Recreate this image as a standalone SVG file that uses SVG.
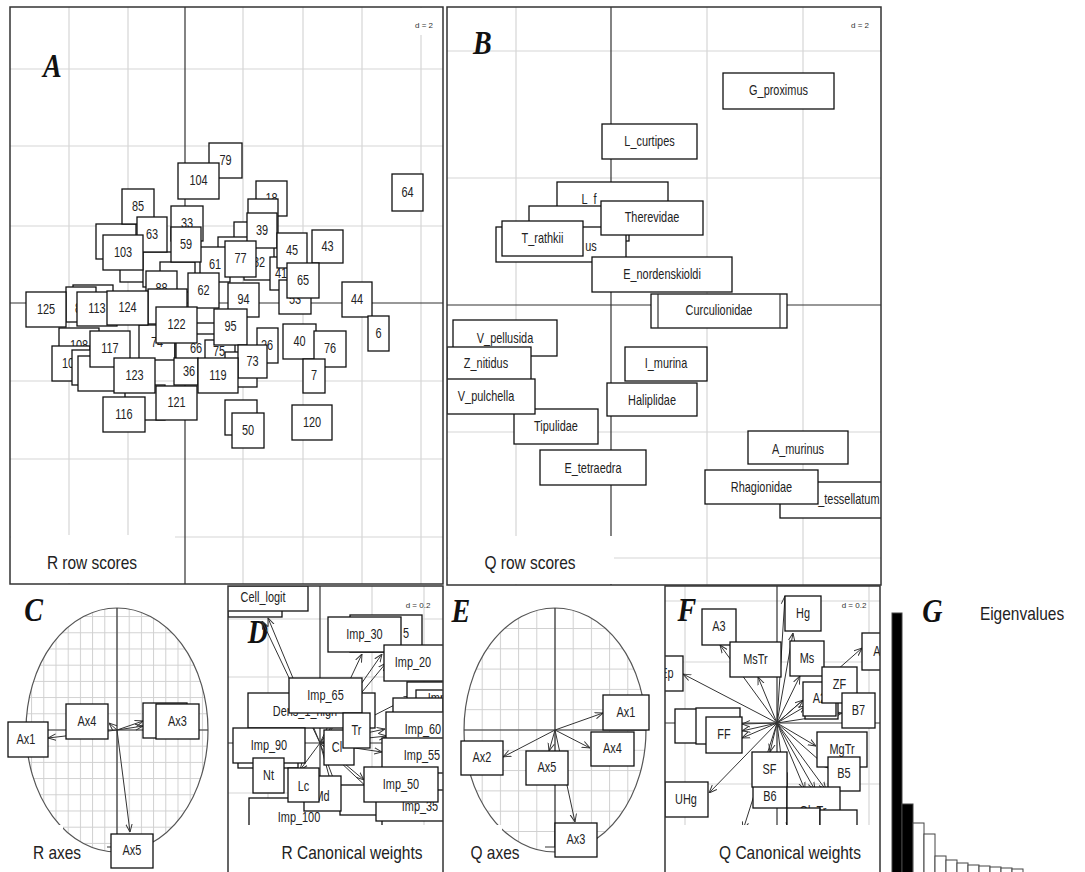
<svg xmlns="http://www.w3.org/2000/svg" width="1085" height="872" viewBox="0 0 1085 872">
<style>
.fr{fill:none;stroke:#333;stroke-width:1.5}
.g{stroke:#d6d6d6;stroke-width:1.2;fill:none}
.ax{stroke:#333;stroke-width:1.2;fill:none}
.b{fill:#fff;stroke:#111;stroke-width:1.3}
.wh{fill:#fff;stroke:none}
.t{font-family:"Liberation Sans",Arial,sans-serif;font-size:14px;fill:#222;text-anchor:middle;dominant-baseline:central;transform-box:fill-box;transform-origin:center;transform:scaleX(.78)}
.ti{font-family:"Liberation Sans",Arial,sans-serif;font-size:18px;fill:#222;text-anchor:middle;dominant-baseline:central;transform-box:fill-box;transform-origin:center;transform:scaleX(.86)}
.sm{font-family:"Liberation Sans",Arial,sans-serif;font-size:8px;fill:#333;text-anchor:middle;dominant-baseline:central}
.L{font-family:"Liberation Serif","Times New Roman",serif;font-style:italic;font-weight:bold;font-size:33px;fill:#111;text-anchor:middle;dominant-baseline:central;transform-box:fill-box;transform-origin:center;transform:scaleX(.85)}
.ar{stroke:#333;stroke-width:1;fill:none;marker-end:url(#ah)}
.el{fill:url(#gpC);stroke:#555;stroke-width:1.2}
.bar{stroke:#444;stroke-width:1}
</style>
<defs>
<marker id="ah" viewBox="0 0 10 10" refX="10" refY="5" markerWidth="8" markerHeight="8" markerUnits="userSpaceOnUse" orient="auto"><path d="M0,1L10,5L0,9" fill="none" stroke="#333" stroke-width="1.2"/></marker>
<pattern id="gpC" patternUnits="userSpaceOnUse" width="12.2" height="16.2" x="116.5" y="729.5"><path d="M0.5,0V16.2M0,0.5H12.2" stroke="#d0d0d0" stroke-width="1" fill="none"/></pattern>
<pattern id="gpE" patternUnits="userSpaceOnUse" width="18.2" height="20.3" x="554.5" y="729.5"><path d="M0.5,0V20.3M0,0.5H18.2" stroke="#d0d0d0" stroke-width="1" fill="none"/></pattern>
<clipPath id="cA"><rect x="10" y="7" width="433" height="577"/></clipPath>
<clipPath id="cB"><rect x="447" y="7" width="434" height="578"/></clipPath>
<clipPath id="cD"><rect x="228" y="586" width="215" height="286"/></clipPath>
<clipPath id="cF"><rect x="665" y="586" width="215" height="286"/></clipPath>
</defs>
<rect width="1085" height="872" fill="#fff"/>

<!-- Panel A -->
<g id="panelA" clip-path="url(#cA)">
<g id="A-grid">
<path class="g" d="M69,7V584M128,7V584M243,7V584M303,7V584M362,7V584M421,7V584M10,69H443M10,146H443M10,226H443M10,381H443M10,459H443M10,537H443"/>
<rect class="wh" x="408" y="8" width="34" height="27"/>
<text class="sm" x="424" y="25">d = 2</text>
<path class="ax" d="M185,7V584M10,303H443"/>
</g>
<text class="L" x="52.5" y="66" font-size="34">A</text>
<g id="A-nodes">
<g id="a-bk1"><rect class="b" x="96" y="224" width="40" height="35"/></g>
<g id="a-18"><rect class="b" x="256" y="181" width="31" height="35"/><text class="t" x="271.5" y="198.5">18</text></g>
<g id="a-bk2"><rect class="b" x="248" y="199" width="30" height="35"/></g>
<g id="a-33"><rect class="b" x="171" y="206" width="32" height="35"/><text class="t" x="187" y="223.5">33</text></g>
<g id="a-bk3"><rect class="b" x="234" y="222" width="30" height="35"/></g>
<g id="a-bk4"><rect class="b" x="218" y="237" width="30" height="35"/></g>
<g id="a-61"><rect class="b" x="200" y="247" width="30" height="35"/><text class="t" x="215" y="264.5">61</text></g>
<g id="a-82"><rect class="b" x="244" y="245" width="30" height="35"/><text class="t" x="259" y="262.5">82</text></g>
<g id="a-41"><rect class="b" x="270" y="257" width="22" height="33"/><text class="t" x="281" y="274">41</text></g>
<g id="a-53"><rect class="b" x="279" y="280" width="32" height="34"/><text class="t" x="295" y="300">53</text></g>
<g id="a-bk5"><rect class="b" x="120" y="252" width="40" height="30"/></g>
<g id="a-bk6"><rect class="b" x="143" y="252" width="35" height="35"/></g>
<g id="a-bk7"><rect class="b" x="160" y="262" width="35" height="30"/></g>
<g id="a-88"><rect class="b" x="146" y="271" width="31" height="35"/><text class="t" x="161.5" y="288.5">88</text></g>
<g id="a-bk8"><rect class="b" x="148" y="289" width="39" height="35"/></g>
<g id="a-bk9"><rect class="b" x="73" y="285" width="40" height="35"/></g>
<g id="a-80"><rect class="b" x="66" y="287" width="30" height="35"/><text class="t" x="81" y="309">80</text></g>
<g id="a-108"><rect class="b" x="59" y="328" width="40" height="35"/><text class="t" x="79" y="345.5">108</text></g>
<g id="a-101"><rect class="b" x="52" y="346" width="38" height="35"/><text class="t" x="71" y="363.5">101</text></g>
<g id="a-bk10"><rect class="b" x="72" y="350" width="40" height="35"/></g>
<g id="a-bk11"><rect class="b" x="78" y="356" width="40" height="35"/></g>
<g id="a-74"><rect class="b" x="139" y="325" width="36" height="35"/><text class="t" x="157" y="342.5">74</text></g>
<g id="a-bk15"><rect class="b" x="175" y="323" width="40" height="35"/></g>
<g id="a-66"><rect class="b" x="176" y="334" width="40" height="35"/><text class="t" x="196" y="349">66</text></g>
<g id="a-75"><rect class="b" x="205" y="340" width="30" height="35"/><text class="t" x="219" y="352">75</text></g>
<g id="a-26"><rect class="b" x="257" y="328" width="21" height="35"/><text class="t" x="267" y="345.5">26</text></g>
<g id="a-bk12"><rect class="b" x="225" y="352" width="32" height="35"/></g>
<g id="a-bk13"><rect class="b" x="125" y="385" width="40" height="35"/></g>
<g id="a-bk14"><rect class="b" x="225" y="400" width="32" height="35"/></g>

<g id="a-79"><rect class="b" x="209" y="143" width="33" height="35"/><text class="t" x="225.5" y="160.5">79</text></g>
<g id="a-104"><rect class="b" x="178" y="163" width="41" height="36"/><text class="t" x="198.5" y="181">104</text></g>
<g id="a-64"><rect class="b" x="392" y="174" width="31" height="37"/><text class="t" x="407.5" y="192.5">64</text></g>
<g id="a-85"><rect class="b" x="122" y="189" width="32" height="35"/><text class="t" x="138" y="206.5">85</text></g>
<g id="a-39"><rect class="b" x="247" y="213" width="30" height="35"/><text class="t" x="262" y="230.5">39</text></g>
<g id="a-63"><rect class="b" x="137" y="217" width="30" height="35"/><text class="t" x="152" y="234.5">63</text></g>
<g id="a-43"><rect class="b" x="312" y="230" width="31" height="33"/><text class="t" x="327.5" y="246.5">43</text></g>
<g id="a-59"><rect class="b" x="171" y="227" width="30" height="35"/><text class="t" x="186" y="244.5">59</text></g>
<g id="a-45"><rect class="b" x="277" y="233" width="30" height="35"/><text class="t" x="292" y="250.5">45</text></g>
<g id="a-103"><rect class="b" x="103" y="235" width="40" height="35"/><text class="t" x="123" y="252.5">103</text></g>
<g id="a-77"><rect class="b" x="225" y="241" width="31" height="36"/><text class="t" x="240.5" y="259">77</text></g>
<g id="a-65"><rect class="b" x="287" y="263" width="32" height="35"/><text class="t" x="303" y="280.5">65</text></g>
<g id="a-62"><rect class="b" x="188" y="273" width="31" height="35"/><text class="t" x="203.5" y="290.5">62</text></g>
<g id="a-44"><rect class="b" x="342" y="282" width="30" height="35"/><text class="t" x="357" y="299.5">44</text></g>
<g id="a-94"><rect class="b" x="228" y="283" width="31" height="34"/><text class="t" x="243.5" y="300">94</text></g>
<g id="a-125"><rect class="b" x="26" y="292" width="40" height="35"/><text class="t" x="46" y="309.5">125</text></g>
<g id="a-113"><rect class="b" x="77" y="292" width="40" height="34"/><text class="t" x="97" y="309">113</text></g>
<g id="a-124"><rect class="b" x="107" y="291" width="41" height="34"/><text class="t" x="127.5" y="308">124</text></g>
<g id="a-122"><rect class="b" x="156" y="307" width="41" height="36"/><text class="t" x="176.5" y="325">122</text></g>
<g id="a-95"><rect class="b" x="214" y="309" width="33" height="36"/><text class="t" x="230.5" y="327">95</text></g>
<g id="a-6"><rect class="b" x="368" y="316" width="21" height="35"/><text class="t" x="378.5" y="333.5">6</text></g>
<g id="a-40"><rect class="b" x="283" y="324" width="33" height="35"/><text class="t" x="299.5" y="341.5">40</text></g>
<g id="a-76"><rect class="b" x="314" y="331" width="32" height="36"/><text class="t" x="330" y="349">76</text></g>
<g id="a-117"><rect class="b" x="90" y="331" width="40" height="36"/><text class="t" x="110" y="349">117</text></g>
<g id="a-73"><rect class="b" x="238" y="345" width="29" height="33"/><text class="t" x="252.5" y="361.5">73</text></g>
<g id="a-36"><rect class="b" x="174" y="358" width="24" height="27"/><text class="t" x="189" y="372">36</text></g>
<g id="a-123"><rect class="b" x="114" y="358" width="41" height="35"/><text class="t" x="134.5" y="375.5">123</text></g>
<g id="a-119"><rect class="b" x="198" y="358" width="40" height="35"/><text class="t" x="218" y="375.5">119</text></g>
<g id="a-7"><rect class="b" x="303" y="359" width="22" height="34"/><text class="t" x="314" y="376">7</text></g>
<g id="a-121"><rect class="b" x="156" y="386" width="41" height="34"/><text class="t" x="176.5" y="403">121</text></g>
<g id="a-116"><rect class="b" x="103" y="397" width="42" height="35"/><text class="t" x="124" y="414.5">116</text></g>
<g id="a-50"><rect class="b" x="232" y="413" width="32" height="35"/><text class="t" x="248" y="430.5">50</text></g>
<g id="a-120"><rect class="b" x="292" y="405" width="40" height="35"/><text class="t" x="312" y="422.5">120</text></g>
</g>
<rect class="wh" x="11" y="535" width="164" height="48"/>
<text class="ti" x="92" y="563">R row scores</text>
</g>
<rect class="fr" x="10" y="7" width="433" height="577"/>

<!-- Panel B -->
<g id="panelB" clip-path="url(#cB)">
<g id="B-grid">
<path class="g" d="M516,7V585M707,7V585M803,7V585M447,51H881M447,178H881M447,432H881M447,558H881"/>
<text class="sm" x="860" y="25">d = 2</text>
<path class="ax" d="M611,7V585M447,305H881"/>
</g>
<text class="L" x="482.5" y="43" font-size="31">B</text>
<g id="B-nodes">
<g id="b-Lf"><rect class="b" x="557" y="182" width="111" height="35"/><text class="t" x="589" y="199.5">L_f</text></g>
<g id="b-bk1"><rect class="b" x="529" y="206" width="100" height="35"/></g>
<g id="b-us"><rect class="b" x="496" y="227" width="130" height="35"/><text class="t" x="591" y="247">us</text></g>
<g id="b-E_nordenskioldi"><rect class="b" x="592" y="257" width="140" height="35"/><text class="t" x="662" y="274.5">E_nordenskioldi</text></g>
<g id="b-T_rathkii"><rect class="b" x="502" y="221" width="81" height="35"/><text class="t" x="542.5" y="238.5">T_rathkii</text></g>
<g id="b-Therevidae"><rect class="b" x="601" y="201" width="102" height="34"/><text class="t" x="652" y="218">Therevidae</text></g>
<g id="b-G_proximus"><rect class="b" x="723" y="73" width="111" height="36"/><text class="t" x="778.5" y="91">G_proximus</text></g>
<g id="b-L_curtipes"><rect class="b" x="602" y="124" width="95" height="35"/><text class="t" x="649.5" y="141.5">L_curtipes</text></g>
<g id="b-Curculionidae"><rect class="b" x="651" y="294" width="136" height="34"/><path class="ax" d="M658,294V328M780,294V328"/><text class="t" x="719" y="311">Curculionidae</text></g>
<g id="b-Tipulidae"><rect class="b" x="514" y="409" width="84" height="35"/><text class="t" x="556" y="426.5">Tipulidae</text></g>
<g id="b-V_pellusida"><rect class="b" x="453" y="320" width="104" height="36"/><text class="t" x="505" y="339">V_pellusida</text></g>
<g id="b-Z_nitidus"><rect class="b" x="447" y="347" width="84" height="34"/><text class="t" x="486" y="364">Z_nitidus</text></g>
<g id="b-V_pulchella"><rect class="b" x="447" y="379" width="88" height="35"/><text class="t" x="486" y="397">V_pulchella</text></g>
<g id="b-I_murina"><rect class="b" x="625" y="347" width="82" height="34"/><text class="t" x="666" y="364">I_murina</text></g>
<g id="b-Haliplidae"><rect class="b" x="607" y="383" width="90" height="33"/><text class="t" x="652" y="401">Haliplidae</text></g>
<g id="b-E_tetraedra"><rect class="b" x="540" y="450" width="106" height="35"/><text class="t" x="593" y="469">E_tetraedra</text></g>
<g id="b-A_murinus"><rect class="b" x="748" y="431" width="100" height="33"/><text class="t" x="798" y="450">A_murinus</text></g>
<g id="b-tessellatum"><rect class="b" x="780" y="482" width="130" height="36"/><text class="t" x="849" y="500">_tessellatum</text></g>
<g id="b-Rhagionidae"><rect class="b" x="705" y="470" width="113" height="34"/><text class="t" x="761.5" y="488">Rhagionidae</text></g>
</g>
<rect class="wh" x="448" y="536" width="166" height="48"/>
<text class="ti" x="530" y="563">Q row scores</text>
</g>
<rect class="fr" x="447" y="7" width="434" height="578"/>

<!-- Panel C -->
<g id="panelC">
<ellipse class="el" cx="117" cy="730" rx="91" ry="122"/>
<path class="ax" d="M117,608V847M26,730H208M107,847H111"/>
<rect class="wh" x="0" y="825" width="63" height="47"/>
<text class="L" x="33.5" y="610">C</text>
<g id="C-connectors">
<line class="ar" x1="117" y1="730" x2="48" y2="738"/>
<line class="ar" x1="117" y1="730" x2="109" y2="723"/>
<line class="ar" x1="117" y1="730" x2="143" y2="721"/>
<line class="ar" x1="117" y1="730" x2="143" y2="726"/>
<line class="ar" x1="117" y1="730" x2="130" y2="832"/>
</g>
<g id="c-Ax1"><rect class="b" x="8" y="722" width="40" height="35"/><text class="t" x="26" y="740">Ax1</text></g>
<g id="c-Ax4"><rect class="b" x="66" y="704" width="42" height="35"/><text class="t" x="87" y="721.5">Ax4</text></g>
<g id="c-Ax2"><rect class="b" x="143" y="703" width="44" height="35"/></g>
<g id="c-Ax3"><rect class="b" x="156" y="704" width="43" height="35"/><text class="t" x="177.5" y="721.5">Ax3</text></g>
<g id="c-Ax5"><rect class="b" x="111" y="834" width="42" height="34"/><text class="t" x="132" y="851">Ax5</text></g>
<text class="ti" x="57" y="853">R axes</text>
</g>

<!-- Panel D -->
<g id="panelD" clip-path="url(#cD)">
<path class="g" d="M268,586V825M372,586V825M424,586V825M228,619H443M228,677H443M228,793H443"/>
<text class="sm" x="418" y="605">d = 0.2</text>
<path class="ax" d="M320,586V825M228,743H443"/>
<text class="L" x="258" y="632">D</text>
<g id="D-connectors">
<line class="ar" x1="320" y1="743" x2="268" y2="618"/>
<line class="ar" x1="320" y1="743" x2="262" y2="621"/>
<line class="ar" x1="320" y1="743" x2="362" y2="654"/>
<line class="ar" x1="320" y1="743" x2="382" y2="654"/>
<line class="ar" x1="320" y1="743" x2="386" y2="663"/>
<line class="ar" x1="320" y1="743" x2="412" y2="696"/>
<line class="ar" x1="320" y1="743" x2="385" y2="729"/>
<line class="ar" x1="320" y1="743" x2="387" y2="736"/>
<line class="ar" x1="320" y1="743" x2="382" y2="752"/>
<line class="ar" x1="320" y1="743" x2="364" y2="780"/>
<line class="ar" x1="320" y1="743" x2="372" y2="792"/>
<line class="ar" x1="320" y1="743" x2="350" y2="823"/>
<line class="ar" x1="320" y1="743" x2="342" y2="823"/>
<line class="ar" x1="320" y1="743" x2="300" y2="770"/>
</g>
<g id="d-bk1"><rect class="b" x="228" y="588" width="54" height="29"/></g>
<g id="d-Cell_logit"><rect class="b" x="226" y="586" width="82" height="25"/><text class="t" x="263" y="598">Cell_logit</text></g>
<g id="d-Imp_25"><rect class="b" x="350" y="615" width="72" height="37"/><text class="t" x="406" y="633.5">5</text></g>
<g id="d-Imp_30"><rect class="b" x="328" y="617" width="73" height="35"/><text class="t" x="364.5" y="634.5">Imp_30</text></g>
<g id="d-Imp_20"><rect class="b" x="384" y="645" width="70" height="36"/><text class="t" x="413" y="663">Imp_20</text></g>
<g id="d-bk2"><rect class="b" x="407" y="682" width="40" height="26"/></g>
<g id="d-Imp_15"><rect class="b" x="416" y="690" width="60" height="18"/><text class="t" x="446" y="699">Imp_15</text></g>
<g id="d-Dens"><rect class="b" x="248" y="693" width="127" height="35"/><text class="t" x="305" y="712">Dens_1_high</text></g>
<g id="d-Imp_65"><rect class="b" x="289" y="678" width="73" height="35"/><text class="t" x="325.5" y="695.5">Imp_65</text></g>
<g id="d-bk3"><rect class="b" x="393" y="698" width="50" height="30"/></g>
<g id="d-Cl"><rect class="b" x="324" y="730" width="30" height="35"/><text class="t" x="337" y="747.5">Cl</text></g>
<g id="d-Tr"><rect class="b" x="343" y="713" width="27" height="35"/><text class="t" x="356.5" y="730.5">Tr</text></g>
<g id="d-Imp_60"><rect class="b" x="386" y="712" width="74" height="35"/><text class="t" x="423" y="729.5">Imp_60</text></g>
<g id="d-Imp_55"><rect class="b" x="382" y="738" width="80" height="35"/><text class="t" x="422" y="755.5">Imp_55</text></g>
<g id="d-bk4"><rect class="b" x="238" y="743" width="60" height="25"/></g>
<g id="d-Imp_90"><rect class="b" x="233" y="728" width="72" height="35"/><text class="t" x="269" y="745.5">Imp_90</text></g>
<g id="d-Imp_100"><rect class="b" x="249" y="798" width="133" height="30"/><text class="t" x="299" y="818">Imp_100</text></g>
<g id="d-bk5"><rect class="b" x="340" y="785" width="40" height="30"/></g>
<g id="d-Nt"><rect class="b" x="253" y="758" width="31" height="35"/><text class="t" x="268.5" y="775.5">Nt</text></g>
<g id="d-Md"><rect class="b" x="304" y="776" width="37" height="35"/><text class="t" x="322" y="797">Md</text></g>
<g id="d-Lc"><rect class="b" x="288" y="768" width="31" height="34"/><text class="t" x="303.5" y="787">Lc</text></g>
<g id="d-Imp_35"><rect class="b" x="376" y="790" width="88" height="31"/><text class="t" x="420" y="807">Imp_35</text></g>
<g id="d-Imp_50"><rect class="b" x="364" y="767" width="74" height="35"/><text class="t" x="401" y="784.5">Imp_50</text></g>
<rect class="wh" x="229" y="825" width="213" height="47"/>
<text class="ti" x="352" y="853">R Canonical weights</text>
</g>
<rect class="fr" x="228" y="586" width="215" height="300"/>

<!-- Panel E -->
<g id="panelE">
<ellipse cx="555" cy="730" rx="91" ry="122" fill="url(#gpE)" stroke="#555" stroke-width="1.2"/>
<path class="ax" d="M555,608V847M464,730H646M545,847H555"/>
<rect class="wh" x="445" y="825" width="57" height="47"/>
<text class="L" x="461" y="611.5">E</text>
<g id="E-connectors">
<line class="ar" x1="555" y1="730" x2="603" y2="713"/>
<line class="ar" x1="555" y1="730" x2="590" y2="748"/>
<line class="ar" x1="555" y1="730" x2="503" y2="757"/>
<line class="ar" x1="555" y1="730" x2="549" y2="751"/>
<line class="ar" x1="555" y1="730" x2="575" y2="822"/>
</g>
<g id="e-Ax1"><rect class="b" x="603" y="695" width="46" height="35"/><text class="t" x="626" y="713">Ax1</text></g>
<g id="e-Ax4"><rect class="b" x="591" y="732" width="43" height="34"/><text class="t" x="612.5" y="749">Ax4</text></g>
<g id="e-Ax2"><rect class="b" x="461" y="741" width="42" height="34"/><text class="t" x="482" y="758">Ax2</text></g>
<g id="e-Ax5"><rect class="b" x="526" y="751" width="42" height="34"/><text class="t" x="547" y="768">Ax5</text></g>
<g id="e-Ax3"><rect class="b" x="555" y="823" width="42" height="34"/><text class="t" x="576" y="840">Ax3</text></g>
<text class="ti" x="495" y="853">Q axes</text>
</g>

<!-- Panel F -->
<g id="panelF" clip-path="url(#cF)">
<path class="g" d="M685,586V825M869,586V825M665,601H880M665,662H880M665,784H880"/>
<text class="sm" x="854" y="605">d = 0.2</text>
<path class="ax" d="M777,586V825M665,723H880"/>
<text class="L" x="687" y="610.5">F</text>
<g id="F-connectors">
<line class="ar" x1="777" y1="723" x2="785" y2="596"/>
<line class="ar" x1="777" y1="723" x2="793" y2="633"/>
<line class="ar" x1="777" y1="723" x2="720" y2="645"/>
<line class="ar" x1="777" y1="723" x2="758" y2="677"/>
<line class="ar" x1="777" y1="723" x2="683" y2="674"/>
<line class="ar" x1="777" y1="723" x2="862" y2="648"/>
<line class="ar" x1="777" y1="723" x2="800" y2="676"/>
<line class="ar" x1="777" y1="723" x2="803" y2="700"/>
<line class="ar" x1="777" y1="723" x2="806" y2="706"/>
<line class="ar" x1="777" y1="723" x2="842" y2="713"/>
<line class="ar" x1="777" y1="723" x2="742" y2="724"/>
<line class="ar" x1="777" y1="723" x2="742" y2="731"/>
<line class="ar" x1="777" y1="723" x2="742" y2="738"/>
<line class="ar" x1="777" y1="723" x2="816" y2="746"/>
<line class="ar" x1="777" y1="723" x2="828" y2="768"/>
<line class="ar" x1="777" y1="723" x2="709" y2="793"/>
<line class="ar" x1="777" y1="723" x2="770" y2="752"/>
<line class="ar" x1="777" y1="723" x2="805" y2="790"/>
<line class="ar" x1="777" y1="723" x2="815" y2="790"/>
<line class="ar" x1="777" y1="723" x2="826" y2="790"/>
<line class="ar" x1="777" y1="723" x2="743" y2="830"/>
<line class="ar" x1="777" y1="723" x2="790" y2="830"/>
</g>
<g id="f-Hg"><rect class="b" x="785" y="596" width="36" height="35"/><text class="t" x="803" y="613.5">Hg</text></g>
<g id="f-A3"><rect class="b" x="702" y="609" width="34" height="36"/><text class="t" x="719" y="627">A3</text></g>
<g id="f-MsTr"><rect class="b" x="730" y="642" width="51" height="35"/><text class="t" x="755.5" y="659.5">MsTr</text></g>
<g id="f-Ms"><rect class="b" x="790" y="641" width="34" height="35"/><text class="t" x="807" y="658.5">Ms</text></g>
<g id="f-A4"><rect class="b" x="862" y="633" width="36" height="37"/><text class="t" x="880" y="651.5">A4</text></g>
<g id="f-Ep"><rect class="b" x="650" y="656" width="33" height="35"/><text class="t" x="667" y="673.5">Ep</text></g>
<g id="f-A1"><rect class="b" x="805" y="686" width="33" height="33"/></g>
<g id="f-A2"><rect class="b" x="803" y="682" width="33" height="34"/><text class="t" x="819.5" y="699">A2</text></g>
<g id="f-ZF"><rect class="b" x="822" y="667" width="35" height="36"/><text class="t" x="839.5" y="685">ZF</text></g>
<g id="f-B7"><rect class="b" x="842" y="693" width="33" height="35"/><text class="t" x="858.5" y="710.5">B7</text></g>
<g id="f-bk1"><rect class="b" x="675" y="709" width="40" height="34"/></g>
<g id="f-bk2"><rect class="b" x="696" y="708" width="44" height="36"/></g>
<g id="f-FF"><rect class="b" x="706" y="717" width="36" height="36"/><text class="t" x="724" y="735">FF</text></g>
<g id="f-MgTr"><rect class="b" x="817" y="732" width="50" height="35"/><text class="t" x="842" y="749.5">MgTr</text></g>
<g id="f-B5"><rect class="b" x="828" y="757" width="32" height="34"/><text class="t" x="844" y="774">B5</text></g>
<g id="f-B6"><rect class="b" x="753" y="773" width="34" height="35"/><text class="t" x="770" y="797">B6</text></g>
<g id="f-SF"><rect class="b" x="752" y="752" width="35" height="35"/><text class="t" x="769.5" y="769.5">SF</text></g>
<g id="f-OlgTr"><rect class="b" x="787" y="787" width="53" height="40"/><text class="t" x="813" y="812">OlgTr</text></g>
<g id="f-bk3"><rect class="b" x="787" y="808" width="33" height="30"/></g>
<g id="f-bk4"><rect class="b" x="820" y="810" width="37" height="30"/></g>
<g id="f-UHg"><rect class="b" x="665" y="782" width="43" height="35"/><text class="t" x="686" y="799.5">UHg</text></g>
<rect class="wh" x="666" y="825" width="213" height="47"/>
<text class="ti" x="790" y="853">Q Canonical weights</text>
</g>
<rect class="fr" x="665" y="586" width="215" height="300"/>

<!-- Panel G -->
<g id="panelG">
<text class="L" x="932.5" y="611.5" font-size="26">G</text>
<text class="ti" x="1022" y="614" font-size="17">Eigenvalues</text>
<rect class="bar" x="892" y="613" width="10" height="262" fill="#000"/>
<rect class="bar" x="902" y="804" width="11" height="71" fill="#000"/>
<rect class="bar" x="913" y="823" width="11" height="52" fill="#fff"/>
<rect class="bar" x="924" y="834" width="11" height="41" fill="#fff"/>
<rect class="bar" x="935" y="856" width="11" height="19" fill="#fff"/>
<rect class="bar" x="946" y="860" width="11" height="15" fill="#fff"/>
<rect class="bar" x="957" y="863" width="11" height="12" fill="#fff"/>
<rect class="bar" x="968" y="865" width="11" height="10" fill="#fff"/>
<rect class="bar" x="979" y="866" width="11" height="9" fill="#fff"/>
<rect class="bar" x="990" y="867" width="11" height="8" fill="#fff"/>
<rect class="bar" x="1001" y="868" width="11" height="7" fill="#fff"/>
<rect class="bar" x="1012" y="869" width="11" height="6" fill="#fff"/>
</g>
</svg>
